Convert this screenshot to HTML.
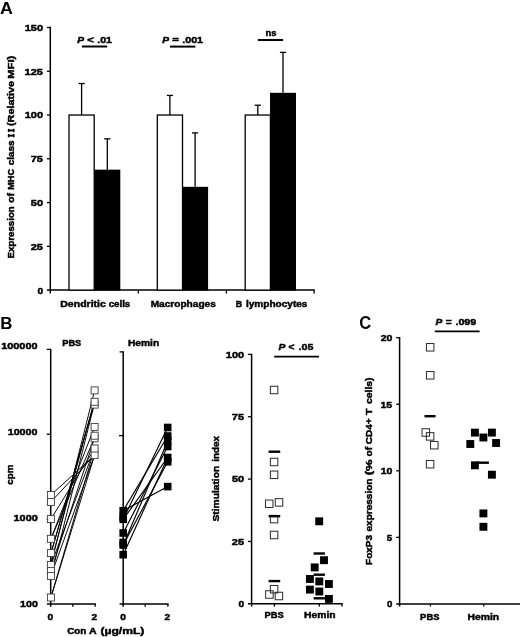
<!DOCTYPE html>
<html><head><meta charset="utf-8"><title>Figure</title>
<style>html,body{margin:0;padding:0;background:#fff;}body{width:520px;height:637px;overflow:hidden;font-family:"Liberation Sans",sans-serif;}</style>
</head><body>
<svg width="520" height="637" viewBox="0 0 520 637" style="display:block;will-change:transform;filter:grayscale(1)">
<rect width="520" height="637" fill="#fff"/>
<g shape-rendering="auto">
<line x1="50.30" y1="26.85" x2="50.30" y2="293.60" stroke="#000" stroke-width="1.5" stroke-linecap="butt"/>
<line x1="46.90" y1="290.10" x2="314.80" y2="290.10" stroke="#000" stroke-width="1.5" stroke-linecap="butt"/>
<line x1="46.90" y1="246.33" x2="50.30" y2="246.33" stroke="#000" stroke-width="1.3" stroke-linecap="butt"/>
<line x1="46.90" y1="202.57" x2="50.30" y2="202.57" stroke="#000" stroke-width="1.3" stroke-linecap="butt"/>
<line x1="46.90" y1="158.80" x2="50.30" y2="158.80" stroke="#000" stroke-width="1.3" stroke-linecap="butt"/>
<line x1="46.90" y1="115.03" x2="50.30" y2="115.03" stroke="#000" stroke-width="1.3" stroke-linecap="butt"/>
<line x1="46.90" y1="71.27" x2="50.30" y2="71.27" stroke="#000" stroke-width="1.3" stroke-linecap="butt"/>
<line x1="46.90" y1="27.50" x2="50.30" y2="27.50" stroke="#000" stroke-width="1.3" stroke-linecap="butt"/>
<line x1="138.30" y1="290.10" x2="138.30" y2="293.60" stroke="#000" stroke-width="1.3" stroke-linecap="butt"/>
<line x1="226.40" y1="290.10" x2="226.40" y2="293.60" stroke="#000" stroke-width="1.3" stroke-linecap="butt"/>
<line x1="314.10" y1="290.10" x2="314.10" y2="293.60" stroke="#000" stroke-width="1.3" stroke-linecap="butt"/>
<rect x="7.90" y="128.80" width="1.40" height="3.30" fill="#000"/>
<rect x="13.00" y="128.80" width="1.40" height="3.30" fill="#000"/>
<rect x="7.90" y="129.50" width="6.50" height="1.90" fill="#000"/>
<rect x="7.90" y="134.00" width="1.40" height="3.30" fill="#000"/>
<rect x="13.00" y="134.00" width="1.40" height="3.30" fill="#000"/>
<rect x="7.90" y="134.70" width="6.50" height="1.90" fill="#000"/>
<rect x="69.00" y="115.03" width="25.20" height="175.07" fill="#fff" stroke="#000" stroke-width="1.3"/>
<line x1="81.60" y1="115.03" x2="81.60" y2="83.52" stroke="#000" stroke-width="1.3" stroke-linecap="butt"/>
<line x1="78.50" y1="83.52" x2="84.70" y2="83.52" stroke="#000" stroke-width="1.3" stroke-linecap="butt"/>
<rect x="94.30" y="169.65" width="26.00" height="120.95" fill="#000"/>
<line x1="107.30" y1="169.65" x2="107.30" y2="138.84" stroke="#000" stroke-width="1.3" stroke-linecap="butt"/>
<line x1="104.20" y1="138.84" x2="110.40" y2="138.84" stroke="#000" stroke-width="1.3" stroke-linecap="butt"/>
<rect x="157.30" y="115.03" width="25.20" height="175.07" fill="#fff" stroke="#000" stroke-width="1.3"/>
<line x1="169.90" y1="115.03" x2="169.90" y2="95.43" stroke="#000" stroke-width="1.3" stroke-linecap="butt"/>
<line x1="166.80" y1="95.43" x2="173.00" y2="95.43" stroke="#000" stroke-width="1.3" stroke-linecap="butt"/>
<rect x="182.10" y="186.81" width="26.00" height="103.79" fill="#000"/>
<line x1="195.10" y1="186.81" x2="195.10" y2="132.89" stroke="#000" stroke-width="1.3" stroke-linecap="butt"/>
<line x1="192.00" y1="132.89" x2="198.20" y2="132.89" stroke="#000" stroke-width="1.3" stroke-linecap="butt"/>
<rect x="245.20" y="115.03" width="25.20" height="175.07" fill="#fff" stroke="#000" stroke-width="1.3"/>
<line x1="257.80" y1="115.03" x2="257.80" y2="105.23" stroke="#000" stroke-width="1.3" stroke-linecap="butt"/>
<line x1="254.70" y1="105.23" x2="260.90" y2="105.23" stroke="#000" stroke-width="1.3" stroke-linecap="butt"/>
<rect x="270.00" y="92.80" width="26.00" height="197.80" fill="#000"/>
<line x1="283.00" y1="92.80" x2="283.00" y2="52.36" stroke="#000" stroke-width="1.3" stroke-linecap="butt"/>
<line x1="279.90" y1="52.36" x2="286.10" y2="52.36" stroke="#000" stroke-width="1.3" stroke-linecap="butt"/>
<line x1="81.90" y1="46.50" x2="107.20" y2="46.50" stroke="#000" stroke-width="2.0" stroke-linecap="butt"/>
<line x1="170.00" y1="46.60" x2="195.40" y2="46.60" stroke="#000" stroke-width="2.0" stroke-linecap="butt"/>
<line x1="257.90" y1="40.00" x2="283.10" y2="40.00" stroke="#000" stroke-width="2.0" stroke-linecap="butt"/>
<line x1="50.70" y1="348.75" x2="50.70" y2="606.70" stroke="#000" stroke-width="1.5" stroke-linecap="butt"/>
<line x1="46.90" y1="603.90" x2="95.90" y2="603.90" stroke="#000" stroke-width="1.5" stroke-linecap="butt"/>
<line x1="46.70" y1="519.07" x2="50.70" y2="519.07" stroke="#000" stroke-width="1.3" stroke-linecap="butt"/>
<line x1="46.70" y1="434.23" x2="50.70" y2="434.23" stroke="#000" stroke-width="1.3" stroke-linecap="butt"/>
<line x1="46.70" y1="349.40" x2="50.70" y2="349.40" stroke="#000" stroke-width="1.3" stroke-linecap="butt"/>
<line x1="72.80" y1="603.90" x2="72.80" y2="606.70" stroke="#000" stroke-width="1.3" stroke-linecap="butt"/>
<line x1="95.20" y1="603.90" x2="95.20" y2="606.70" stroke="#000" stroke-width="1.3" stroke-linecap="butt"/>
<line x1="50.90" y1="495.00" x2="94.60" y2="455.10" stroke="#000" stroke-width="0.95" stroke-linecap="butt"/>
<line x1="50.90" y1="501.90" x2="94.60" y2="455.10" stroke="#000" stroke-width="0.95" stroke-linecap="butt"/>
<line x1="50.90" y1="519.10" x2="94.60" y2="448.50" stroke="#000" stroke-width="0.95" stroke-linecap="butt"/>
<line x1="50.90" y1="538.80" x2="94.60" y2="426.90" stroke="#000" stroke-width="0.95" stroke-linecap="butt"/>
<line x1="50.90" y1="538.80" x2="94.60" y2="437.80" stroke="#000" stroke-width="0.95" stroke-linecap="butt"/>
<line x1="50.90" y1="553.10" x2="94.60" y2="401.50" stroke="#000" stroke-width="0.95" stroke-linecap="butt"/>
<line x1="50.90" y1="554.00" x2="94.60" y2="402.30" stroke="#000" stroke-width="0.95" stroke-linecap="butt"/>
<line x1="50.90" y1="563.00" x2="94.60" y2="400.00" stroke="#000" stroke-width="0.95" stroke-linecap="butt"/>
<line x1="50.90" y1="577.00" x2="94.60" y2="403.00" stroke="#000" stroke-width="0.95" stroke-linecap="butt"/>
<line x1="50.90" y1="565.00" x2="94.60" y2="448.50" stroke="#000" stroke-width="0.95" stroke-linecap="butt"/>
<line x1="50.90" y1="565.00" x2="94.60" y2="390.40" stroke="#000" stroke-width="0.95" stroke-linecap="butt"/>
<line x1="50.90" y1="571.10" x2="94.60" y2="437.80" stroke="#000" stroke-width="0.95" stroke-linecap="butt"/>
<line x1="50.90" y1="575.90" x2="94.60" y2="455.10" stroke="#000" stroke-width="0.95" stroke-linecap="butt"/>
<line x1="50.90" y1="597.50" x2="94.60" y2="448.50" stroke="#000" stroke-width="0.95" stroke-linecap="butt"/>
<line x1="50.90" y1="597.50" x2="94.60" y2="455.10" stroke="#000" stroke-width="0.95" stroke-linecap="butt"/>
<rect x="47.40" y="491.50" width="7.00" height="7.00" fill="#fff" stroke="#3a3a3a" stroke-width="0.9"/>
<rect x="47.40" y="498.40" width="7.00" height="7.00" fill="#fff" stroke="#3a3a3a" stroke-width="0.9"/>
<rect x="47.40" y="515.60" width="7.00" height="7.00" fill="#fff" stroke="#3a3a3a" stroke-width="0.9"/>
<rect x="47.40" y="535.30" width="7.00" height="7.00" fill="#fff" stroke="#3a3a3a" stroke-width="0.9"/>
<rect x="47.40" y="549.60" width="7.00" height="7.00" fill="#fff" stroke="#3a3a3a" stroke-width="0.9"/>
<rect x="47.40" y="561.50" width="7.00" height="7.00" fill="#fff" stroke="#3a3a3a" stroke-width="0.9"/>
<rect x="47.40" y="567.60" width="7.00" height="7.00" fill="#fff" stroke="#3a3a3a" stroke-width="0.9"/>
<rect x="47.40" y="572.40" width="7.00" height="7.00" fill="#fff" stroke="#3a3a3a" stroke-width="0.9"/>
<rect x="47.40" y="594.00" width="7.00" height="7.00" fill="#fff" stroke="#3a3a3a" stroke-width="0.9"/>
<rect x="91.10" y="451.60" width="7.00" height="7.00" fill="#fff" stroke="#3a3a3a" stroke-width="0.9"/>
<rect x="91.10" y="445.00" width="7.00" height="7.00" fill="#fff" stroke="#3a3a3a" stroke-width="0.9"/>
<rect x="91.10" y="434.80" width="7.00" height="7.00" fill="#fff" stroke="#3a3a3a" stroke-width="0.9"/>
<rect x="91.10" y="432.20" width="7.00" height="7.00" fill="#fff" stroke="#3a3a3a" stroke-width="0.9"/>
<rect x="91.10" y="423.40" width="7.00" height="7.00" fill="#fff" stroke="#3a3a3a" stroke-width="0.9"/>
<rect x="91.10" y="401.10" width="7.00" height="7.00" fill="#fff" stroke="#3a3a3a" stroke-width="0.9"/>
<rect x="91.10" y="398.30" width="7.00" height="7.00" fill="#fff" stroke="#3a3a3a" stroke-width="0.9"/>
<rect x="91.10" y="386.90" width="7.00" height="7.00" fill="#fff" stroke="#3a3a3a" stroke-width="0.9"/>
<line x1="123.20" y1="351.25" x2="123.20" y2="606.70" stroke="#000" stroke-width="1.5" stroke-linecap="butt"/>
<line x1="119.60" y1="604.00" x2="168.60" y2="604.00" stroke="#000" stroke-width="1.5" stroke-linecap="butt"/>
<line x1="119.60" y1="351.90" x2="123.20" y2="351.90" stroke="#000" stroke-width="1.3" stroke-linecap="butt"/>
<line x1="119.00" y1="435.60" x2="123.20" y2="435.60" stroke="#000" stroke-width="1.3" stroke-linecap="butt"/>
<line x1="145.20" y1="604.00" x2="145.20" y2="606.70" stroke="#000" stroke-width="1.3" stroke-linecap="butt"/>
<line x1="167.90" y1="604.00" x2="167.90" y2="606.70" stroke="#000" stroke-width="1.3" stroke-linecap="butt"/>
<line x1="123.20" y1="510.70" x2="167.70" y2="486.60" stroke="#000" stroke-width="1.15" stroke-linecap="butt"/>
<line x1="123.20" y1="510.70" x2="167.70" y2="436.00" stroke="#000" stroke-width="1.15" stroke-linecap="butt"/>
<line x1="123.20" y1="519.30" x2="167.70" y2="427.50" stroke="#000" stroke-width="1.15" stroke-linecap="butt"/>
<line x1="123.20" y1="519.30" x2="167.70" y2="457.50" stroke="#000" stroke-width="1.15" stroke-linecap="butt"/>
<line x1="123.20" y1="533.00" x2="167.70" y2="446.50" stroke="#000" stroke-width="1.15" stroke-linecap="butt"/>
<line x1="123.20" y1="545.00" x2="167.70" y2="441.00" stroke="#000" stroke-width="1.15" stroke-linecap="butt"/>
<line x1="123.20" y1="545.00" x2="167.70" y2="461.80" stroke="#000" stroke-width="1.15" stroke-linecap="butt"/>
<line x1="123.20" y1="554.70" x2="167.70" y2="457.50" stroke="#000" stroke-width="1.15" stroke-linecap="butt"/>
<rect x="119.40" y="506.90" width="7.60" height="7.60" fill="#000"/>
<rect x="119.40" y="513.20" width="7.60" height="7.60" fill="#000"/>
<rect x="119.40" y="515.50" width="7.60" height="7.60" fill="#000"/>
<rect x="119.40" y="529.20" width="7.60" height="7.60" fill="#000"/>
<rect x="119.40" y="538.70" width="7.60" height="7.60" fill="#000"/>
<rect x="119.40" y="541.20" width="7.60" height="7.60" fill="#000"/>
<rect x="119.40" y="550.90" width="7.60" height="7.60" fill="#000"/>
<rect x="163.90" y="423.70" width="7.60" height="7.60" fill="#000"/>
<rect x="163.90" y="432.20" width="7.60" height="7.60" fill="#000"/>
<rect x="163.90" y="437.20" width="7.60" height="7.60" fill="#000"/>
<rect x="163.90" y="442.70" width="7.60" height="7.60" fill="#000"/>
<rect x="163.90" y="453.70" width="7.60" height="7.60" fill="#000"/>
<rect x="163.90" y="458.00" width="7.60" height="7.60" fill="#000"/>
<rect x="163.90" y="482.80" width="7.60" height="7.60" fill="#000"/>
<line x1="251.60" y1="353.75" x2="251.60" y2="606.60" stroke="#000" stroke-width="1.5" stroke-linecap="butt"/>
<line x1="248.00" y1="603.80" x2="342.65" y2="603.80" stroke="#000" stroke-width="1.5" stroke-linecap="butt"/>
<line x1="247.90" y1="541.45" x2="251.60" y2="541.45" stroke="#000" stroke-width="1.3" stroke-linecap="butt"/>
<line x1="247.90" y1="479.10" x2="251.60" y2="479.10" stroke="#000" stroke-width="1.3" stroke-linecap="butt"/>
<line x1="247.90" y1="416.75" x2="251.60" y2="416.75" stroke="#000" stroke-width="1.3" stroke-linecap="butt"/>
<line x1="247.90" y1="354.40" x2="251.60" y2="354.40" stroke="#000" stroke-width="1.3" stroke-linecap="butt"/>
<line x1="274.40" y1="603.80" x2="274.40" y2="606.60" stroke="#000" stroke-width="1.3" stroke-linecap="butt"/>
<line x1="319.30" y1="603.80" x2="319.30" y2="606.60" stroke="#000" stroke-width="1.3" stroke-linecap="butt"/>
<line x1="342.00" y1="603.80" x2="342.00" y2="606.60" stroke="#000" stroke-width="1.3" stroke-linecap="butt"/>
<line x1="274.20" y1="356.60" x2="319.00" y2="356.60" stroke="#000" stroke-width="1.8" stroke-linecap="butt"/>
<rect x="270.35" y="386.25" width="7.50" height="7.50" fill="none" stroke="#2a2a2a" stroke-width="1.0"/>
<rect x="270.35" y="458.25" width="7.50" height="7.50" fill="none" stroke="#2a2a2a" stroke-width="1.0"/>
<rect x="270.35" y="471.05" width="7.50" height="7.50" fill="none" stroke="#2a2a2a" stroke-width="1.0"/>
<rect x="265.45" y="500.05" width="7.50" height="7.50" fill="none" stroke="#2a2a2a" stroke-width="1.0"/>
<rect x="275.25" y="498.65" width="7.50" height="7.50" fill="none" stroke="#2a2a2a" stroke-width="1.0"/>
<rect x="270.35" y="515.35" width="7.50" height="7.50" fill="none" stroke="#2a2a2a" stroke-width="1.0"/>
<rect x="270.35" y="531.25" width="7.50" height="7.50" fill="none" stroke="#2a2a2a" stroke-width="1.0"/>
<rect x="270.35" y="585.45" width="7.50" height="7.50" fill="none" stroke="#2a2a2a" stroke-width="1.0"/>
<rect x="265.65" y="590.75" width="7.50" height="7.50" fill="none" stroke="#2a2a2a" stroke-width="1.0"/>
<rect x="275.15" y="592.25" width="7.50" height="7.50" fill="none" stroke="#2a2a2a" stroke-width="1.0"/>
<line x1="268.60" y1="451.70" x2="280.20" y2="451.70" stroke="#000" stroke-width="2.4" stroke-linecap="butt"/>
<line x1="268.60" y1="516.20" x2="280.20" y2="516.20" stroke="#000" stroke-width="2.4" stroke-linecap="butt"/>
<line x1="268.60" y1="581.10" x2="280.20" y2="581.10" stroke="#000" stroke-width="2.4" stroke-linecap="butt"/>
<rect x="315.25" y="517.35" width="7.90" height="7.90" fill="#000"/>
<rect x="320.05" y="556.25" width="7.90" height="7.90" fill="#000"/>
<rect x="310.75" y="563.45" width="7.90" height="7.90" fill="#000"/>
<rect x="305.95" y="575.05" width="7.90" height="7.90" fill="#000"/>
<rect x="315.35" y="577.45" width="7.90" height="7.90" fill="#000"/>
<rect x="324.95" y="580.05" width="7.90" height="7.90" fill="#000"/>
<rect x="305.95" y="585.65" width="7.90" height="7.90" fill="#000"/>
<rect x="315.35" y="587.55" width="7.90" height="7.90" fill="#000"/>
<rect x="324.95" y="594.95" width="7.90" height="7.90" fill="#000"/>
<line x1="313.60" y1="553.50" x2="324.90" y2="553.50" stroke="#000" stroke-width="2.4" stroke-linecap="butt"/>
<line x1="313.60" y1="574.70" x2="324.90" y2="574.70" stroke="#000" stroke-width="2.4" stroke-linecap="butt"/>
<line x1="313.60" y1="598.30" x2="324.90" y2="598.30" stroke="#000" stroke-width="2.4" stroke-linecap="butt"/>
<line x1="399.60" y1="337.05" x2="399.60" y2="606.40" stroke="#000" stroke-width="1.5" stroke-linecap="butt"/>
<line x1="396.20" y1="603.90" x2="520.00" y2="603.90" stroke="#000" stroke-width="1.5" stroke-linecap="butt"/>
<line x1="396.20" y1="537.35" x2="399.60" y2="537.35" stroke="#000" stroke-width="1.3" stroke-linecap="butt"/>
<line x1="396.20" y1="470.80" x2="399.60" y2="470.80" stroke="#000" stroke-width="1.3" stroke-linecap="butt"/>
<line x1="396.20" y1="404.25" x2="399.60" y2="404.25" stroke="#000" stroke-width="1.3" stroke-linecap="butt"/>
<line x1="396.20" y1="337.70" x2="399.60" y2="337.70" stroke="#000" stroke-width="1.3" stroke-linecap="butt"/>
<line x1="430.40" y1="603.90" x2="430.40" y2="606.40" stroke="#000" stroke-width="1.3" stroke-linecap="butt"/>
<line x1="483.70" y1="603.90" x2="483.70" y2="606.40" stroke="#000" stroke-width="1.3" stroke-linecap="butt"/>
<line x1="434.80" y1="331.30" x2="479.60" y2="331.30" stroke="#000" stroke-width="1.8" stroke-linecap="butt"/>
<rect x="426.45" y="343.55" width="7.50" height="7.50" fill="none" stroke="#2a2a2a" stroke-width="1.0"/>
<rect x="426.45" y="371.55" width="7.50" height="7.50" fill="none" stroke="#2a2a2a" stroke-width="1.0"/>
<rect x="422.05" y="428.75" width="7.50" height="7.50" fill="none" stroke="#2a2a2a" stroke-width="1.0"/>
<rect x="426.35" y="432.65" width="7.50" height="7.50" fill="none" stroke="#2a2a2a" stroke-width="1.0"/>
<rect x="430.55" y="441.45" width="7.50" height="7.50" fill="none" stroke="#2a2a2a" stroke-width="1.0"/>
<rect x="426.35" y="460.45" width="7.50" height="7.50" fill="none" stroke="#2a2a2a" stroke-width="1.0"/>
<line x1="424.50" y1="416.20" x2="435.60" y2="416.20" stroke="#000" stroke-width="2.4" stroke-linecap="butt"/>
<rect x="470.95" y="428.65" width="7.90" height="7.90" fill="#000"/>
<rect x="479.45" y="433.55" width="7.90" height="7.90" fill="#000"/>
<rect x="487.95" y="428.65" width="7.90" height="7.90" fill="#000"/>
<rect x="466.35" y="440.05" width="7.90" height="7.90" fill="#000"/>
<rect x="492.15" y="439.05" width="7.90" height="7.90" fill="#000"/>
<rect x="470.95" y="461.35" width="7.90" height="7.90" fill="#000"/>
<rect x="487.95" y="470.75" width="7.90" height="7.90" fill="#000"/>
<rect x="479.45" y="509.45" width="7.90" height="7.90" fill="#000"/>
<rect x="479.45" y="522.85" width="7.90" height="7.90" fill="#000"/>
<line x1="477.50" y1="462.70" x2="488.90" y2="462.70" stroke="#000" stroke-width="2.4" stroke-linecap="butt"/>
</g>
<g font-family='"Liberation Sans", sans-serif' font-weight="bold" fill="#000" stroke="#000" stroke-width="0.45">
<text transform="translate(0.07,13.50) scale(1.0611,1)" font-size="16.8" stroke="none">A</text>
<text transform="translate(37.50,293.50) scale(1.0799,1)" font-size="9.4">0</text>
<text transform="translate(30.72,249.73) scale(1.1738,1)" font-size="9.4">25</text>
<text transform="translate(30.87,205.97) scale(1.1738,1)" font-size="9.4">50</text>
<text transform="translate(30.72,162.20) scale(1.1738,1)" font-size="9.4">75</text>
<text transform="translate(24.71,118.43) scale(1.1738,1)" font-size="9.4">100</text>
<text transform="translate(24.56,74.67) scale(1.1738,1)" font-size="9.4">125</text>
<text transform="translate(24.71,30.90) scale(1.1738,1)" font-size="9.4">150</text>
<text transform="translate(14.40,258.49) rotate(-90) scale(1.0326,1)" font-size="9.4">Expression</text>
<text transform="translate(14.40,202.94) rotate(-90) scale(1.1111,1)" font-size="9.4">of</text>
<text transform="translate(14.40,189.76) rotate(-90) scale(0.9714,1)" font-size="9.4">MHC</text>
<text transform="translate(14.40,165.33) rotate(-90) scale(1.0595,1)" font-size="9.4">class</text>
<text transform="translate(14.40,125.99) rotate(-90) scale(1.1484,1)" font-size="9.4">(Relative</text>
<text transform="translate(14.40,78.75) rotate(-90) scale(1.1973,1)" font-size="9.4">MFI)</text>
<text transform="translate(77.34,43.10) scale(1.0868,1)" font-size="9.4"><tspan font-style="italic">P</tspan></text>
<text transform="translate(87.15,43.10) scale(1.2190,1)" font-size="9.4">&lt;</text>
<text transform="translate(97.28,43.10) scale(1.1168,1)" font-size="9.4">.01</text>
<text transform="translate(162.34,43.10) scale(1.0868,1)" font-size="9.4"><tspan font-style="italic">P</tspan></text>
<text transform="translate(172.15,43.10) scale(1.2190,1)" font-size="9.4">=</text>
<text transform="translate(182.28,43.10) scale(1.1301,1)" font-size="9.4">.001</text>
<text transform="translate(265.62,36.40) scale(1.0024,1)" font-size="9.4">ns</text>
<text transform="translate(60.28,307.30) scale(1.1180,1)" font-size="9.4">Dendritic</text>
<text transform="translate(108.67,307.30) scale(1.0341,1)" font-size="9.4">cells</text>
<text transform="translate(150.70,307.30) scale(1.0756,1)" font-size="9.4">Macrophages</text>
<text transform="translate(235.85,307.30) scale(0.9440,1)" font-size="9.4">B</text>
<text transform="translate(245.90,307.30) scale(1.0731,1)" font-size="9.4">lymphocytes</text>
<text transform="translate(0.13,328.60) scale(0.9931,1)" font-size="17" stroke="none">B</text>
<text transform="translate(1.27,349.10) scale(1.1545,1)" font-size="9.4">100000</text>
<text transform="translate(7.67,435.40) scale(1.1412,1)" font-size="9.4">10000</text>
<text transform="translate(13.57,521.10) scale(1.1583,1)" font-size="9.4">1000</text>
<text transform="translate(20.08,606.90) scale(1.1306,1)" font-size="9.4">100</text>
<text transform="translate(13.10,484.73) rotate(-90) scale(1.0453,1)" font-size="9.4">cpm</text>
<text transform="translate(62.23,346.10) scale(0.9867,1)" font-size="9.4">PBS</text>
<text transform="translate(127.99,346.10) scale(1.0857,1)" font-size="9.4">Hemin</text>
<text transform="translate(47.50,620.20) scale(1.0799,1)" font-size="9.4">0</text>
<text transform="translate(91.57,620.20) scale(1.0799,1)" font-size="9.4">2</text>
<text transform="translate(120.20,620.20) scale(1.0799,1)" font-size="9.4">0</text>
<text transform="translate(164.47,620.20) scale(1.0799,1)" font-size="9.4">2</text>
<text transform="translate(67.17,634.10) scale(1.0535,1)" font-size="9.4">Con</text>
<text transform="translate(89.10,634.10) scale(1.1259,1)" font-size="9.4">A</text>
<text transform="translate(100.38,634.10) scale(1.2896,1)" font-size="9.4">(µg/mL)</text>
<text transform="translate(238.60,607.05) scale(1.0799,1)" font-size="9.4">0</text>
<text transform="translate(231.82,544.70) scale(1.1738,1)" font-size="9.4">25</text>
<text transform="translate(231.97,482.35) scale(1.1738,1)" font-size="9.4">50</text>
<text transform="translate(231.82,420.00) scale(1.1738,1)" font-size="9.4">75</text>
<text transform="translate(225.81,357.65) scale(1.1738,1)" font-size="9.4">100</text>
<text transform="translate(219.20,521.60) rotate(-90) scale(1.0936,1)" font-size="9.4">Stimulation</text>
<text transform="translate(219.20,461.79) rotate(-90) scale(1.0503,1)" font-size="9.4">index</text>
<text transform="translate(264.43,618.30) scale(0.9920,1)" font-size="9.4">PBS</text>
<text transform="translate(304.09,618.30) scale(1.0964,1)" font-size="9.4">Hemin</text>
<text transform="translate(278.44,350.00) scale(1.0868,1)" font-size="9.4"><tspan font-style="italic">P</tspan></text>
<text transform="translate(288.56,350.00) scale(1.0857,1)" font-size="9.4">&lt;</text>
<text transform="translate(298.58,350.00) scale(1.1248,1)" font-size="9.4">.05</text>
<text transform="translate(359.23,328.80) scale(0.9417,1)" font-size="17.6" stroke="none">C</text>
<text transform="translate(386.97,607.40) scale(1.0259,1)" font-size="9.4">0</text>
<text transform="translate(386.84,540.85) scale(1.0259,1)" font-size="9.4">5</text>
<text transform="translate(380.67,474.30) scale(1.1151,1)" font-size="9.4">10</text>
<text transform="translate(380.53,407.75) scale(1.1151,1)" font-size="9.4">15</text>
<text transform="translate(380.67,341.20) scale(1.1151,1)" font-size="9.4">20</text>
<text transform="translate(372.30,564.90) rotate(-90) scale(1.0606,1)" font-size="9.4">FoxP3</text>
<text transform="translate(372.30,531.53) rotate(-90) scale(1.0694,1)" font-size="9.4">expression</text>
<text transform="translate(372.30,475.34) rotate(-90) scale(1.3778,1)" font-size="9.4">(%</text>
<text transform="translate(372.30,456.54) rotate(-90) scale(1.0889,1)" font-size="9.4">of</text>
<text transform="translate(372.30,444.23) rotate(-90) scale(1.0708,1)" font-size="9.4">CD4+</text>
<text transform="translate(372.30,415.06) rotate(-90) scale(1.1500,1)" font-size="9.4">T</text>
<text transform="translate(372.30,404.04) rotate(-90) scale(1.1048,1)" font-size="9.4">cells)</text>
<text transform="translate(420.12,620.00) scale(1.0027,1)" font-size="9.4">PBS</text>
<text transform="translate(467.59,620.00) scale(1.1000,1)" font-size="9.4">Hemin</text>
<text transform="translate(435.53,324.90) scale(1.0717,1)" font-size="9.4"><tspan font-style="italic">P</tspan></text>
<text transform="translate(445.66,324.90) scale(1.0857,1)" font-size="9.4">=</text>
<text transform="translate(455.47,324.90) scale(1.1380,1)" font-size="9.4">.099</text>
</g>
</svg>
</body></html>
